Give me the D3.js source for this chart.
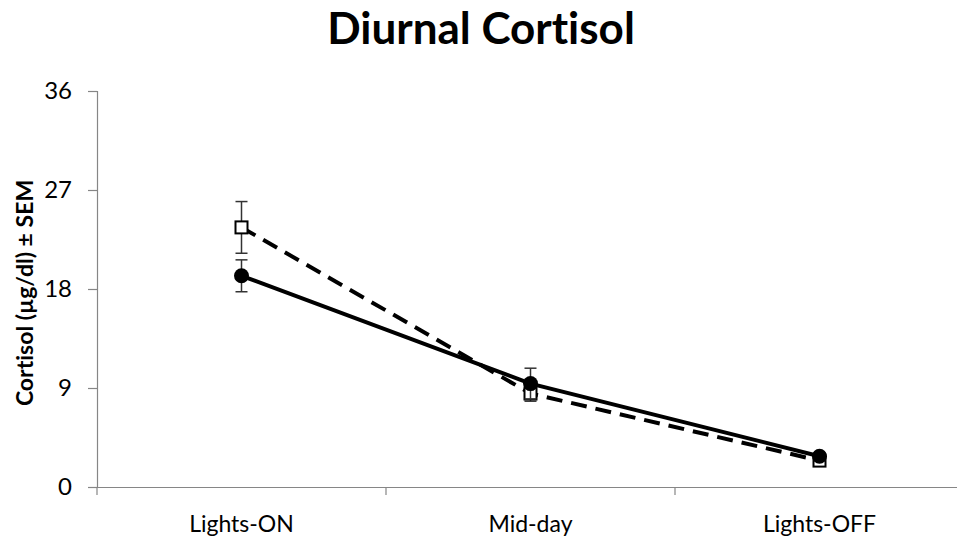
<!DOCTYPE html>
<html>
<head>
<meta charset="utf-8">
<script src="https://cdn.jsdelivr.net/npm/d3@7"></script>
<style>
  body { margin: 0; background: #fff; }
  svg { display: block; }
  text { font-variant-ligatures: none; font-feature-settings: "liga" 0, "clig" 0; }
</style>
</head>
<body>
<svg id="chart" width="957" height="542"></svg>
<script>
// Time points and cortisol readings (µg/dl) with SEM
const categories = ["Lights-ON", "Mid-day", "Lights-OFF"];
const openSquareMean = [23.6, 8.5, 2.4];
const openSquareSem  = [2.35, 0.7, 0.3];
const filledCircleMean = [19.2, 9.4, 2.8];
const filledCircleSem  = [1.45, 1.4, 0.3];
const yTicks = [0, 9, 18, 27, 36];

const svg = d3.select("#chart");
const font = "Lato, 'Open Sans', sans-serif";

const x0 = 97, y0 = 487, yTop = 91;
const band = 289;

const x = d3.scaleBand()
  .domain(categories)
  .range([x0, x0 + band * categories.length])
  .paddingInner(0).paddingOuter(0);

const y = d3.scaleLinear().domain([0, 36]).range([y0, yTop]);

const axisColor = "#868686";

// Title
svg.append("text")
  .attr("x", 481).attr("y", 44)
  .attr("text-anchor", "middle")
  .attr("font-family", font)
  .attr("font-weight", "bold")
  .attr("font-size", 44)
  .text("Diurnal Cortisol");

// Y axis
const yAxis = svg.append("g")
  .attr("transform", `translate(${x0},0)`)
  .call(d3.axisLeft(y).tickValues(yTicks).tickSize(9).tickPadding(16).tickFormat(d3.format("d")));
yAxis.select(".domain").attr("stroke", axisColor).attr("stroke-width", 1.2);
yAxis.selectAll(".tick line").attr("stroke", axisColor).attr("stroke-width", 1.2);
yAxis.selectAll(".tick text")
  .attr("font-family", font).attr("font-size", 24).attr("fill", "#000");

// X axis
const xAxis = svg.append("g")
  .attr("transform", `translate(0,${y0})`)
  .call(d3.axisBottom(x).tickSize(0));
xAxis.select(".domain").attr("stroke", axisColor).attr("stroke-width", 1.2);
xAxis.selectAll(".tick text")
  .attr("y", 45).attr("dy", 0)
  .attr("font-family", font).attr("font-size", 23).attr("fill", "#000");
// Category boundary tick marks
svg.append("g").selectAll("line")
  .data(d3.range(categories.length))
  .join("line")
  .attr("x1", i => x0 + band * i).attr("x2", i => x0 + band * i)
  .attr("y1", y0).attr("y2", y0 + 8)
  .attr("stroke", axisColor).attr("stroke-width", 1.2);

// Y axis title
svg.append("text")
  .attr("transform", `translate(33,${293}) rotate(-90)`)
  .attr("text-anchor", "middle")
  .attr("font-family", font)
  .attr("font-weight", "bold")
  .attr("font-size", 23)
  .text("Cortisol (µg/dl) ± SEM");

const cx = c => x(c) + x.bandwidth() / 2;

function errorBars(means, sems) {
  const g = svg.append("g").attr("stroke", "#333").attr("stroke-width", 1.5);
  categories.forEach((c, i) => {
    const px = cx(c);
    const hi = y(means[i] + sems[i]), lo = y(means[i] - sems[i]);
    g.append("line").attr("x1", px).attr("x2", px).attr("y1", hi).attr("y2", lo);
    g.append("line").attr("x1", px - 6).attr("x2", px + 6).attr("y1", hi).attr("y2", hi);
    g.append("line").attr("x1", px - 6).attr("x2", px + 6).attr("y1", lo).attr("y2", lo);
  });
}

const line = d3.line().x((d, i) => cx(categories[i])).y(d => y(d));

// Open-square series (dashed)
errorBars(openSquareMean, openSquareSem);
svg.append("path")
  .datum(openSquareMean)
  .attr("d", line)
  .attr("fill", "none")
  .attr("stroke", "#000")
  .attr("stroke-width", 4)
  .attr("stroke-dasharray", "16,9");
svg.append("g").selectAll("rect")
  .data(openSquareMean)
  .join("rect")
  .attr("x", (d, i) => cx(categories[i]) - 6)
  .attr("y", d => y(d) - 6)
  .attr("width", 12).attr("height", 12)
  .attr("fill", "#fff").attr("stroke", "#000").attr("stroke-width", 2);

// Filled-circle series (solid)
errorBars(filledCircleMean, filledCircleSem);
svg.append("path")
  .datum(filledCircleMean)
  .attr("d", line)
  .attr("fill", "none")
  .attr("stroke", "#000")
  .attr("stroke-width", 4);
svg.append("g").selectAll("circle")
  .data(filledCircleMean)
  .join("circle")
  .attr("cx", (d, i) => cx(categories[i]))
  .attr("cy", d => y(d))
  .attr("r", 7.5)
  .attr("fill", "#000");
</script>
</body>
</html>
